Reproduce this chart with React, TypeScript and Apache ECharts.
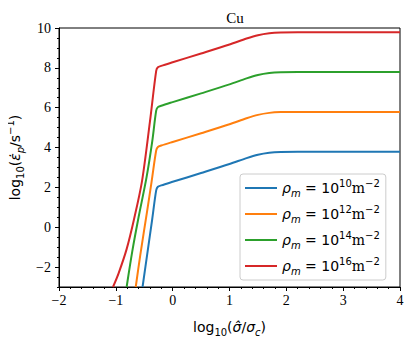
import React, { useEffect, useRef } from 'react';
import * as echarts from 'echarts';

const COLORS = ['#1f77b4', '#ff7f0e', '#2ca02c', '#d62728'];
const RHO_EXPONENTS = ['10', '12', '14', '16'];
const X_TICKS = [-2, -1, 0, 1, 2, 3, 4];
const Y_TICKS = [-2, 0, 2, 4, 6, 8, 10];
const TITLE = 'Cu';

const rho10: [number, number][] = [
  [-0.53, -3], [-0.44, -1.2], [-0.36, 0.4], [-0.29, 1.85], [-0.26, 2.03], [-0.2, 2.1],
  [0, 2.28], [0.5, 2.72], [1.0, 3.17], [1.3, 3.47], [1.5, 3.64], [1.7, 3.74], [1.9, 3.78],
  [2.2, 3.79], [4, 3.79],
];
const rho12: [number, number][] = [
  [-0.65, -3], [-0.57, -1.4], [-0.45, 0.8], [-0.37, 2.3], [-0.29, 3.85], [-0.26, 4.03], [-0.2, 4.1],
  [0, 4.28], [0.5, 4.72], [1.0, 5.17], [1.3, 5.47], [1.5, 5.64], [1.7, 5.74], [1.9, 5.78],
  [2.2, 5.79], [4, 5.79],
];
const rho14: [number, number][] = [
  [-0.81, -3], [-0.71, -1.2], [-0.6, 0.5], [-0.46, 2.5], [-0.36, 4.3], [-0.29, 5.85], [-0.26, 6.03],
  [-0.2, 6.1], [0, 6.28], [0.5, 6.72], [1.0, 7.17], [1.3, 7.47], [1.5, 7.64], [1.7, 7.74],
  [1.9, 7.78], [2.2, 7.79], [4, 7.79],
];
const rho16: [number, number][] = [
  [-1.05, -3], [-0.95, -2.3], [-0.81, -1.1], [-0.68, 0.4], [-0.54, 2.3], [-0.4, 5.3], [-0.29, 7.85],
  [-0.26, 8.03], [-0.2, 8.1], [0, 8.28], [0.5, 8.72], [1.0, 9.17], [1.3, 9.47], [1.5, 9.64],
  [1.7, 9.74], [1.9, 9.78], [2.2, 9.79], [4, 9.79],
];
const SERIES = [rho10, rho12, rho14, rho16];

const SERIF = 'Liberation Serif';
const SANS = 'DejaVu Sans';

const fmtNum = (v: number) => (v < 0 ? '\u2212' + Math.abs(v) : String(v));

export default function App() {
  const ref = useRef<HTMLDivElement>(null);
  useEffect(() => {
    if (!ref.current) return;
    const chart = echarts.init(ref.current, undefined, { renderer: 'svg' });
    const names = RHO_EXPONENTS.map((e) => `rho_m = 10^${e} m^-2`);
    chart.setOption({
      animation: false,
      backgroundColor: '#fff',
      title: {
        text: TITLE,
        left: 230,
        top: 5,
        textAlign: 'center',
        textStyle: { fontFamily: SERIF, fontSize: 15, fontWeight: 'normal', color: '#000' },
      },
      grid: {
        left: 59, right: 15, top: 28, bottom: 57,
        show: true, borderColor: '#000', borderWidth: 1, backgroundColor: 'transparent',
        containLabel: false, outerBoundsMode: 'none',
      },
      legend: {
        orient: 'vertical',
        left: 240,
        top: 174,
        padding: [4, 6, 4, 5],
        itemGap: 6,
        itemWidth: 32,
        itemHeight: 2,
        icon: 'rect',
        backgroundColor: 'rgba(255,255,255,0.8)',
        borderColor: '#cccccc',
        borderWidth: 1,
        borderRadius: 3,
        data: names,
        formatter: (name: string) => {
          const i = names.indexOf(name);
          return `{i|ρ}{sub|m}{n| = 10}{sup|${RHO_EXPONENTS[i]}}{r|m}{sup|\u22122}`;
        },
        textStyle: {
          color: '#000',
          rich: {
            i: { fontFamily: SANS, fontStyle: 'italic', fontSize: 14, lineHeight: 20, color: '#000' },
            sub: { fontFamily: SANS, fontStyle: 'italic', fontSize: 10, lineHeight: 12, verticalAlign: 'bottom', color: '#000' },
            n: { fontFamily: SANS, fontSize: 14, lineHeight: 20, color: '#000' },
            sup: { fontFamily: SANS, fontSize: 10, lineHeight: 12, verticalAlign: 'top', color: '#000' },
            r: { fontFamily: 'DejaVu Serif', fontSize: 14, lineHeight: 20, color: '#000' },
          },
        },
      },
      xAxis: {
        type: 'value',
        min: X_TICKS[0],
        max: X_TICKS[X_TICKS.length - 1],
        interval: 1,
        name: '{n|log}{s|10}{n|(}{i|σ\u0302}{n|/}{i|σ}{si|c}{n|)}',
        nameLocation: 'middle',
        nameGap: 30,
        nameTextStyle: {
          rich: {
            n: { fontFamily: SANS, fontSize: 14, lineHeight: 20, color: '#000' },
            s: { fontFamily: SANS, fontSize: 10, lineHeight: 12, verticalAlign: 'bottom', color: '#000' },
            i: { fontFamily: SANS, fontStyle: 'italic', fontSize: 14, lineHeight: 20, color: '#000' },
            si: { fontFamily: SANS, fontStyle: 'italic', fontSize: 10, lineHeight: 12, verticalAlign: 'bottom', color: '#000' },
          },
        },
        axisLine: { show: true, onZero: false, lineStyle: { color: '#000', width: 1 } },
        axisTick: { show: true, length: 4, lineStyle: { color: '#000', width: 1 } },
        minorTick: { show: true, splitNumber: 5, length: 2, lineStyle: { color: '#000', width: 1 } },
        axisLabel: {
          margin: 6,
          fontFamily: SERIF, fontSize: 14, color: '#000',
          formatter: (v: number) => fmtNum(v),
        },
        splitLine: { show: false },
      },
      yAxis: [
        {
          type: 'value',
          min: -3,
          max: 10,
          position: 'left',
          name: '{n|log}{s|10}{n|(}{i|ε\u0307}{si|p}{n|/s}{sup|\u22121}{n|)}',
          nameLocation: 'middle',
          nameRotate: 90,
          nameGap: 32,
          nameTextStyle: {
            rich: {
              n: { fontFamily: SANS, fontSize: 14, lineHeight: 20, color: '#000' },
              s: { fontFamily: SANS, fontSize: 10, lineHeight: 12, verticalAlign: 'bottom', color: '#000' },
              i: { fontFamily: SANS, fontStyle: 'italic', fontSize: 14, lineHeight: 20, color: '#000' },
              si: { fontFamily: SANS, fontStyle: 'italic', fontSize: 10, lineHeight: 12, verticalAlign: 'bottom', color: '#000' },
              sup: { fontFamily: SANS, fontSize: 10, lineHeight: 12, verticalAlign: 'top', color: '#000' },
            },
          },
          axisLine: { show: true, onZero: false, lineStyle: { color: '#000', width: 1 } },
          axisTick: { show: true, length: 4, customValues: Y_TICKS, lineStyle: { color: '#000', width: 1 } },
          axisLabel: {
            margin: 8,
            customValues: Y_TICKS,
            fontFamily: SERIF, fontSize: 14, color: '#000',
            formatter: (v: number) => fmtNum(v),
          },
          splitLine: { show: false },
        },
        {
          type: 'value',
          min: -3,
          max: 10,
          interval: 0.5,
          position: 'left',
          offset: 0,
          axisLine: { show: false, onZero: false },
          axisTick: { show: true, length: 2, lineStyle: { color: '#000', width: 1 } },
          axisLabel: { show: false },
          splitLine: { show: false },
        },
      ],
      series: SERIES.map((data, i) => ({
        name: names[i],
        type: 'line',
        data,
        yAxisIndex: 0,
        showSymbol: false,
        symbol: 'none',
        smooth: 0.3,
        lineStyle: { color: COLORS[i], width: 2 },
        itemStyle: { color: COLORS[i] },
        clip: true,
      })),
    });
    return () => chart.dispose();
  }, []);
  return <div ref={ref} style={{ width: 415, height: 344, margin: -8 }} />;
}
